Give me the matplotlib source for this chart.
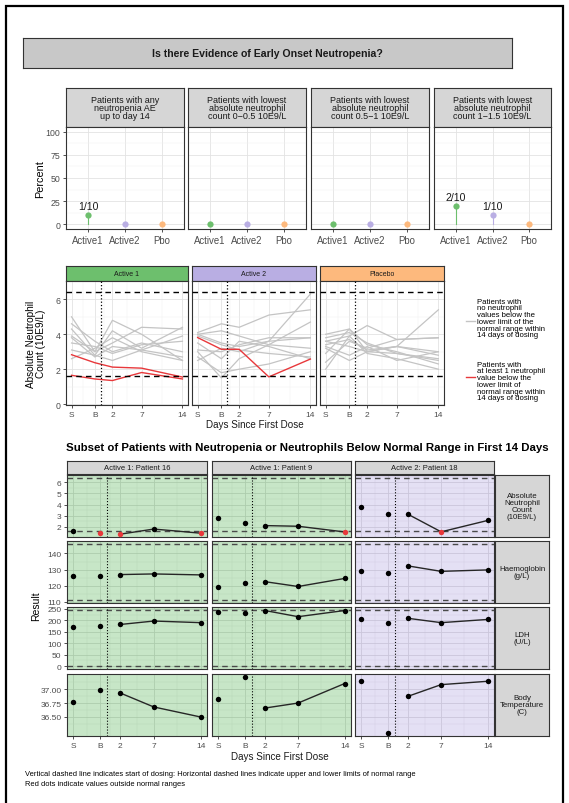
import matplotlib
matplotlib.use('Agg')
import matplotlib.pyplot as plt
from matplotlib.patches import Rectangle
from matplotlib.lines import Line2D
import numpy as np

plt.rcParams['font.family'] = ['Liberation Sans', 'DejaVu Sans']

# ---------------- data ----------------
top_titles = ["Patients with any\nneutropenia AE\nup to day 14",
              "Patients with lowest\nabsolute neutrophil\ncount 0\u22120.5 10E9/L",
              "Patients with lowest\nabsolute neutrophil\ncount 0.5\u22121 10E9/L",
              "Patients with lowest\nabsolute neutrophil\ncount 1\u22121.5 10E9/L"]
top_arms = ["Active1", "Active2", "Pbo"]
top_n = [10, 10, 10]
top_counts = [[1, 0, 0], [0, 0, 0], [0, 0, 0], [2, 1, 0]]

arm_titles = ["Active 1", "Active 2", "Placebo"]
day_labels = ["S", "B", "2", "7", "14"]
day_pos = [-5, -1, 2, 7, 14]
anc_range = (1.6, 6.4)

gray_active1 = [[5.0, 3.0, 4.8, 4.0, 2.5],
                [4.3, 2.8, 4.2, 3.2, 4.4],
                [3.9, 3.0, 3.5, 4.4, 4.3],
                [3.8, 2.7, 3.3, 3.1, 3.9],
                [3.5, 3.3, 2.9, 3.4, 3.6],
                [3.1, 2.8, 2.5, 3.1, 2.7],
                [2.6, 3.2, 3.8, 3.0, 2.5],
                [4.6, 3.6, 3.0, 3.5, 3.0]]
gray_active2 = [[4.1, 4.6, 4.4, 5.1, 5.4],
                [4.0, 3.5, 3.3, 3.6, 6.3],
                [3.1, 3.0, 3.4, 3.8, 3.8],
                [3.0, 1.5, 2.6, 3.4, 4.7],
                [2.7, 1.8, 2.0, 2.3, 3.0],
                [3.9, 3.4, 3.1, 2.9, 2.7],
                [2.5, 3.2, 3.0, 3.6, 3.8],
                [3.5, 2.6, 3.6, 3.3, 2.6],
                [4.0, 4.2, 3.9, 3.4, 3.2]]
gray_placebo = [[4.0, 4.3, 3.0, 3.3, 5.4],
                [3.6, 3.9, 4.5, 3.7, 3.8],
                [3.4, 3.7, 3.1, 3.3, 3.0],
                [3.2, 2.5, 3.0, 2.9, 2.5],
                [2.9, 4.3, 3.4, 3.0, 2.3],
                [2.0, 3.9, 2.9, 2.6, 2.0],
                [3.6, 3.3, 3.0, 3.3, 2.8],
                [3.3, 2.8, 3.3, 2.5, 3.0],
                [2.4, 3.6, 3.2, 3.7, 3.8],
                [3.8, 4.1, 3.5, 2.9, 2.6]]

sub_patients = ["Active 1: Patient 16", "Active 1: Patient 9", "Active 2: Patient 18"]
sub_arm = [0, 0, 1]
params = ["Absolute\nNeutrophil\nCount\n(10E9/L)", "Haemoglobin\n(g/L)", "LDH\n(U/L)",
          "Body\nTemperature\n(C)"]
anc_vals = [[1.65, 1.44, 1.35, 1.81, 1.44],
            [2.83, 2.37, 2.12, 2.06, 1.55],
            [3.81, 3.14, 3.14, 1.56, 2.58]]
hb_vals = [[125.9, 125.9, 126.9, 127.3, 126.7],
           [119.0, 121.5, 122.5, 119.5, 124.5],
           [129.4, 128.0, 132.3, 128.9, 129.8]]
ldh_vals = [[172, 175, 182, 197, 190],
            [238, 231, 243, 216, 243],
            [204, 190, 209, 190, 204]]
temp_vals = [[36.76, 36.99, 36.93, 36.68, 36.50],
             [36.82, 37.22, 36.66, 36.75, 37.10],
             [37.14, 36.21, 36.87, 37.08, 37.14]]
normal_ranges = [anc_range, (111, 146), (0, 246), None]
row_ticks = [[2, 3, 4, 5, 6], [110, 120, 130, 140], [0, 50, 100, 150, 200, 250],
             [36.50, 36.75, 37.00]]
row_ticklabels = [["2", "3", "4", "5", "6"], ["110", "120", "130", "140"],
                  ["0", "50", "100", "150", "200", "250"], ["36.50", "36.75", "37.00"]]

# ---------------- style ----------------
GREEN = '#6dbf6d'
PURPLE = '#b9aee3'
ORANGE = '#fdb97d'
arm_colors = [GREEN, PURPLE, ORANGE]
STRIP_GRAY = '#d6d6d6'
EDGE = '#333333'
TICKC = '#4d4d4d'
RED = '#e8383b'

W, H = 569, 804
fig = plt.figure(figsize=(W / 100, H / 100), dpi=100)


def rect(x0, y0, x1, y1):
    return [x0 / W, 1 - y1 / H, (x1 - x0) / W, (y1 - y0) / H]


def fx(x):
    return x / W


def fy(y):
    return 1 - y / H


def style_spines(ax, lw=0.8):
    for s in ax.spines.values():
        s.set_color(EDGE)
        s.set_linewidth(lw)


def strip(x0, y0, x1, y1, text, fc, size, ls=1.0, color='#1a1a1a', weight='normal'):
    ax = fig.add_axes(rect(x0, y0, x1, y1))
    ax.set_facecolor(fc)
    ax.set_xticks([])
    ax.set_yticks([])
    style_spines(ax)
    ax.text(0.5, 0.5, text, ha='center', va='center', fontsize=size, color=color,
            linespacing=ls, transform=ax.transAxes, fontweight=weight)
    return ax


def grid_setup(ax, xmaj, xmin, ymaj, ymin, gc='#e3e3e3', gcm='#f1f1f1'):
    ax.set_xticks(xmaj)
    ax.set_xticks(xmin, minor=True)
    ax.set_yticks(ymaj)
    ax.set_yticks(ymin, minor=True)
    ax.grid(True, which='major', color=gc, lw=0.6)
    ax.grid(True, which='minor', color=gcm, lw=0.35)
    ax.tick_params(which='minor', length=0)
    ax.tick_params(which='major', length=2.5, width=0.6, color=EDGE, labelcolor=TICKC, pad=1.5)
    ax.set_axisbelow(True)


# outer frame
fig.patches.append(Rectangle((fx(6), fy(812)), fx(563) - fx(6), fy(7) - fy(812),
                             transform=fig.transFigure, fill=False, lw=1.6, ec='black'))

# main title box
strip(23, 39, 512, 69, "Is there Evidence of Early Onset Neutropenia?", '#c8c8c8', 7.6,
      weight='bold')

# ---------------- top row ----------------
top_x = [(66, 184), (188, 306), (311, 429), (434, 551)]
for i, (x0, x1) in enumerate(top_x):
    strip(x0, 89, x1, 128, top_titles[i], STRIP_GRAY, 6.5, ls=0.92)
    ax = fig.add_axes(rect(x0, 128, x1, 230))
    ax.set_xlim(0.4, 3.6)
    ax.set_ylim(-5, 105)
    grid_setup(ax, [1, 2, 3], [], [0, 25, 50, 75, 100], [12.5, 37.5, 62.5, 87.5])
    style_spines(ax)
    ax.set_xticklabels(top_arms, fontsize=6.9)
    if i == 0:
        ax.set_yticklabels(["0", "25", "50", "75", "100"], fontsize=6.3)
    else:
        ax.tick_params(axis='y', length=0, labelleft=False)
    for j in range(3):
        c = top_counts[i][j]
        pct = c / top_n[j] * 100
        ax.plot([j + 1, j + 1], [0, pct], color=arm_colors[j], lw=0.8, zorder=3)
        ax.plot(j + 1, pct, 'o', color=arm_colors[j], ms=4.5, zorder=4, mec='none')
        if c > 0:
            ax.text(j + 1, pct + 10, f"{c}/{top_n[j]}", ha='center', va='center',
                    fontsize=7.6, color='#1a1a1a')

fig.text(fx(40), fy(179), "Percent", rotation=90, ha='center', va='center', fontsize=7.8)

# ---------------- middle row ----------------
mid_x = [(66, 188), (192, 316), (320, 444)]
gray_sets = [gray_active1, gray_active2, gray_placebo]
red_sets = [[anc_vals[0], anc_vals[1]], [anc_vals[2]], []]
xminor = [-3, 0.5, 4.5, 10.5]
for i, (x0, x1) in enumerate(mid_x):
    strip(x0, 267, x1, 282, arm_titles[i], arm_colors[i], 5.0)
    ax = fig.add_axes(rect(x0, 282, x1, 406))
    ax.set_xlim(-5.95, 14.95)
    ax.set_ylim(-0.05, 7.05)
    grid_setup(ax, day_pos, xminor, [0, 2, 4, 6], [1, 3, 5, 7])
    style_spines(ax)
    ax.set_xticklabels(day_labels, fontsize=6.0)
    if i == 0:
        ax.set_yticklabels(["0", "2", "4", "6"], fontsize=6.3)
    else:
        ax.tick_params(axis='y', length=0, labelleft=False)
    for g in gray_sets[i]:
        ax.plot(day_pos, g, color='#c4c4c4', lw=0.9, zorder=2)
    for r in red_sets[i]:
        ax.plot(day_pos, r, color=RED, lw=1.0, zorder=3)
    for yv in anc_range:
        ax.axhline(yv, color='black', lw=1.0, dashes=(4, 3), zorder=4)
    ax.axvline(0, color='black', lw=0.9, ls=':', zorder=4)

fig.text(fx(36), fy(344), "Absolute Neutrophil\nCount (10E9/L)", rotation=90, ha='center',
         va='center', fontsize=7.2, linespacing=1.0)
fig.text(fx(255), fy(425), "Days Since First Dose", ha='center', va='center', fontsize=7.1,
         color='#1a1a1a')

# legend
fig.lines.append(Line2D([fx(466), fx(475)], [fy(322), fy(322)], color='#c4c4c4', lw=1.0,
                        transform=fig.transFigure))
fig.text(fx(477), fy(319), "Patients with\nno neutrophil\nvalues below the\nlower limit of the\n"
         "normal range within\n14 days of dosing", ha='left', va='center', fontsize=5.6,
         linespacing=0.95)
fig.lines.append(Line2D([fx(466), fx(475)], [fy(378), fy(378)], color=RED, lw=1.0,
                        transform=fig.transFigure))
fig.text(fx(477), fy(382), "Patients with\nat least 1 neutrophil\nvalue below the\nlower limit of\n"
         "normal range within\n14 days of dosing", ha='left', va='center', fontsize=5.6,
         linespacing=0.95)

# ---------------- bottom section ----------------
fig.text(fx(307), fy(448), "Subset of Patients with Neutropenia or Neutrophils Below Normal "
         "Range in First 14 Days", ha='center', va='center', fontsize=8.2, fontweight='bold')

col_x = [(67, 207), (212, 351), (355, 494)]
row_y = [(476, 538), (542, 604), (608, 670), (675, 737)]
all_vals = [anc_vals, hb_vals, ldh_vals, temp_vals]

for c, (x0, x1) in enumerate(col_x):
    strip(x0, 462, x1, 475, sub_patients[c], STRIP_GRAY, 5.5)
for r, (y0, y1) in enumerate(row_y):
    strip(495, y0, 549, y1, params[r], STRIP_GRAY, 5.7, ls=1.0)

for r, (y0, y1) in enumerate(row_y):
    vals = all_vals[r]
    nr = normal_ranges[r]
    lo = min(min(v) for v in vals)
    hi = max(max(v) for v in vals)
    if nr is not None:
        lo = min(lo, nr[0])
        hi = max(hi, nr[1])
    pad = (hi - lo) * 0.05
    ylim = (lo - pad, hi + pad)
    maj = row_ticks[r]
    step = maj[1] - maj[0]
    ymin = [t + step / 2 for t in [maj[0] - step] + maj]
    ymin = [t for t in ymin if ylim[0] <= t <= ylim[1]]
    for c, (x0, x1) in enumerate(col_x):
        ax = fig.add_axes(rect(x0, y0, x1, y1))
        ax.set_xlim(-5.95, 14.95)
        ax.set_ylim(*ylim)
        grid_setup(ax, day_pos, xminor, maj, ymin, gc='#d4d4d4', gcm='#e6e6e6')
        style_spines(ax)
        ax.add_patch(Rectangle((0, 0), 1, 1, transform=ax.transAxes,
                               color=arm_colors[sub_arm[c]], alpha=0.38, zorder=0.6, lw=0))
        if r == len(row_y) - 1:
            ax.set_xticklabels(day_labels, fontsize=6.0)
        else:
            ax.tick_params(axis='x', length=0, labelbottom=False)
        if c == 0:
            ax.set_yticklabels(row_ticklabels[r], fontsize=6.0)
        else:
            ax.tick_params(axis='y', length=0, labelleft=False)
        v = vals[c]
        ax.plot(day_pos[2:], v[2:], color='#262626', lw=1.0, zorder=3)
        for d, y in zip(day_pos, v):
            out = nr is not None and (y < nr[0] or y > nr[1])
            ax.plot(d, y, 'o', color=RED if out else 'black', ms=3.9, mec='none', zorder=4,
                    clip_on=False)
        if nr is not None:
            for yv in nr:
                ax.axhline(yv, color='#4a4a4a', lw=1.0, dashes=(4, 3), zorder=2.5)
        ax.axvline(0, color='black', lw=0.8, ls=':', zorder=2.6)

fig.text(fx(36), fy(606), "Result", rotation=90, ha='center', va='center', fontsize=7.5)
fig.text(fx(280), fy(757), "Days Since First Dose", ha='center', va='center', fontsize=7.1,
         color='#1a1a1a')

fig.text(fx(25), fy(775), "Vertical dashed line indicates start of dosing: Horizontal dashed lines "
         "indicate upper and lower limits of normal range", ha='left', va='center', fontsize=5.4)
fig.text(fx(25), fy(785), "Red dots indicate values outside normal ranges", ha='left',
         va='center', fontsize=5.4)

fig.savefig('out.png', dpi=100)
